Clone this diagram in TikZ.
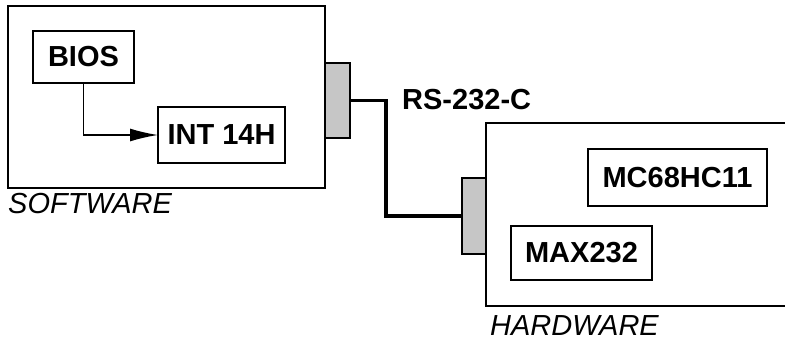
\documentclass[tikz,border=0pt]{standalone}
\usepackage{fontspec}
\setmainfont{Liberation Sans}
\usetikzlibrary{arrows.meta,patterns}
\begin{document}
\begin{tikzpicture}[x=1pt,y=-1pt,
  frame/.style={draw, line width=1.4pt, inner sep=0pt, outer sep=0pt},
  blk/.style={draw, line width=2pt, inner sep=0pt, outer sep=0pt, font=\fontsize{29}{34}\selectfont\bfseries},
  port/.style={draw, line width=1.4pt, fill=gray!45, inner sep=0pt, outer sep=0pt},
  lbl/.style={inner sep=0pt, font=\fontsize{29}{34}\selectfont\itshape},
  cable/.style={line width=3.5pt}]
\useasboundingbox (0,0) rectangle (785,342);
\clip (0,0) rectangle (785,342);
% software side
\node[frame, minimum width=317pt, minimum height=182pt] (sw) at (166.5,97) {};
\node[port, minimum width=25pt, minimum height=75pt] (swc) at (337.5,100.5) {};
\node[blk, minimum width=101pt, minimum height=52pt] (bios) at (83.5,57) {BIOS};
\node[blk, minimum width=127pt, minimum height=56pt] (int) at (221.5,135) {INT 14H};
\draw[line width=1.4pt, -{Latex[length=28pt,width=13pt]}] (bios.south) |- (int.west);
\node[lbl, anchor=base west] (swl) at (8,213) {SOFTWARE};
% hardware side
\node[frame, minimum width=314pt, minimum height=183pt] (hw) at (643,214.5) {};
\node[port, minimum width=24pt, minimum height=76pt] (hwc) at (474,216) {};
\node[blk, minimum width=179pt, minimum height=57pt] (mc) at (677.5,177.5) {MC68HC11};
\node[blk, minimum width=141pt, minimum height=54pt] (max) at (581.5,253) {MAX232};
\node[lbl, anchor=base west] (hwl) at (490,335) {HARDWARE};
% cable
\draw[cable] (swc.east) -- ++(36,0) |- (hwc.west);
\node[inner sep=0pt, anchor=base west, font=\fontsize{29}{34}\selectfont\bfseries] (rs) at (402,110) {RS-232-C};
\end{tikzpicture}
\end{document}
